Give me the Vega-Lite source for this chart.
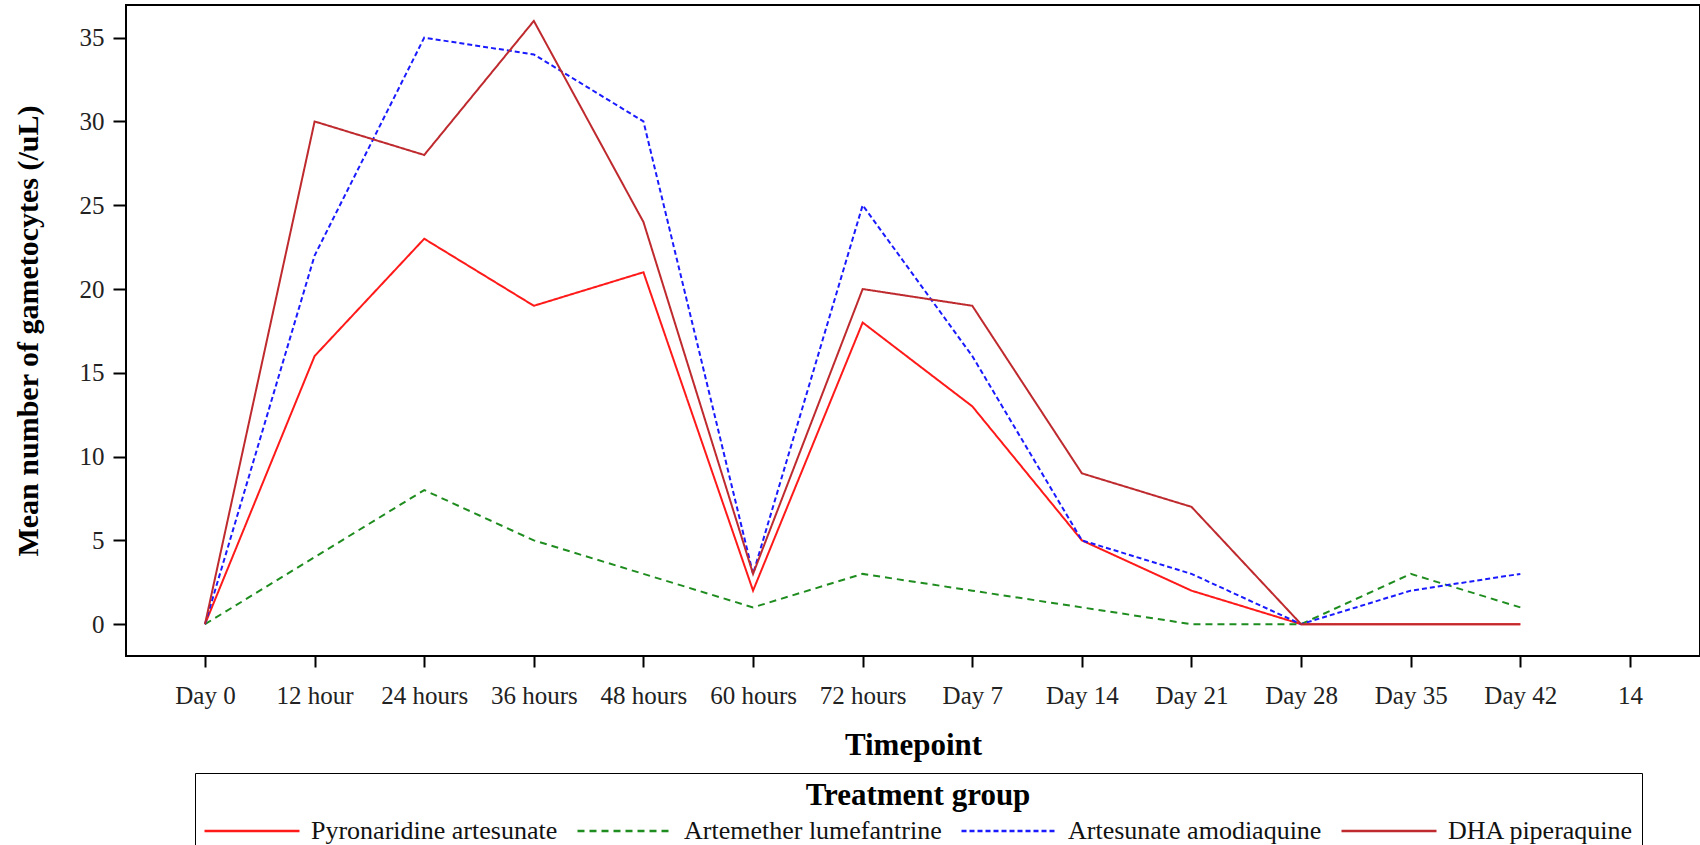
{
  "$schema": "https://vega.github.io/schema/vega-lite/v6.json",
  "width": 1574,
  "height": 651,
  "autosize": {"type": "none"},
  "padding": {"left": 126, "top": 5, "right": 0, "bottom": 189},
  "background": "white",
  "config": {
    "font": "Liberation Serif",
    "view": {"stroke": "black", "strokeWidth": 2},
    "axis": {
      "domain": false,
      "grid": false,
      "tickColor": "black",
      "tickWidth": 2,
      "labelColor": "#222222",
      "labelFont": "Liberation Serif",
      "titleFont": "Liberation Serif",
      "titleFontWeight": "bold",
      "titleColor": "black"
    },
    "legend": {
      "labelFont": "Liberation Serif",
      "titleFont": "Liberation Serif"
    }
  },
  "data": {
    "values": [
      {"t": "Day 0", "g": "Pyronaridine artesunate", "v": 0},
      {"t": "12 hour", "g": "Pyronaridine artesunate", "v": 16},
      {"t": "24 hours", "g": "Pyronaridine artesunate", "v": 23},
      {"t": "36 hours", "g": "Pyronaridine artesunate", "v": 19},
      {"t": "48 hours", "g": "Pyronaridine artesunate", "v": 21},
      {"t": "60 hours", "g": "Pyronaridine artesunate", "v": 2},
      {"t": "72 hours", "g": "Pyronaridine artesunate", "v": 18},
      {"t": "Day 7", "g": "Pyronaridine artesunate", "v": 13},
      {"t": "Day 14", "g": "Pyronaridine artesunate", "v": 5},
      {"t": "Day 21", "g": "Pyronaridine artesunate", "v": 2},
      {"t": "Day 28", "g": "Pyronaridine artesunate", "v": 0},
      {"t": "Day 35", "g": "Pyronaridine artesunate", "v": 0},
      {"t": "Day 42", "g": "Pyronaridine artesunate", "v": 0},
      {"t": "Day 0", "g": "Artemether lumefantrine", "v": 0},
      {"t": "12 hour", "g": "Artemether lumefantrine", "v": 4},
      {"t": "24 hours", "g": "Artemether lumefantrine", "v": 8},
      {"t": "36 hours", "g": "Artemether lumefantrine", "v": 5},
      {"t": "48 hours", "g": "Artemether lumefantrine", "v": 3},
      {"t": "60 hours", "g": "Artemether lumefantrine", "v": 1},
      {"t": "72 hours", "g": "Artemether lumefantrine", "v": 3},
      {"t": "Day 7", "g": "Artemether lumefantrine", "v": 2},
      {"t": "Day 14", "g": "Artemether lumefantrine", "v": 1},
      {"t": "Day 21", "g": "Artemether lumefantrine", "v": 0},
      {"t": "Day 28", "g": "Artemether lumefantrine", "v": 0},
      {"t": "Day 35", "g": "Artemether lumefantrine", "v": 3},
      {"t": "Day 42", "g": "Artemether lumefantrine", "v": 1},
      {"t": "Day 0", "g": "Artesunate amodiaquine", "v": 0},
      {"t": "12 hour", "g": "Artesunate amodiaquine", "v": 22},
      {"t": "24 hours", "g": "Artesunate amodiaquine", "v": 35},
      {"t": "36 hours", "g": "Artesunate amodiaquine", "v": 34},
      {"t": "48 hours", "g": "Artesunate amodiaquine", "v": 30},
      {"t": "60 hours", "g": "Artesunate amodiaquine", "v": 3},
      {"t": "72 hours", "g": "Artesunate amodiaquine", "v": 25},
      {"t": "Day 7", "g": "Artesunate amodiaquine", "v": 16},
      {"t": "Day 14", "g": "Artesunate amodiaquine", "v": 5},
      {"t": "Day 21", "g": "Artesunate amodiaquine", "v": 3},
      {"t": "Day 28", "g": "Artesunate amodiaquine", "v": 0},
      {"t": "Day 35", "g": "Artesunate amodiaquine", "v": 2},
      {"t": "Day 42", "g": "Artesunate amodiaquine", "v": 3},
      {"t": "Day 0", "g": "DHA piperaquine", "v": 0},
      {"t": "12 hour", "g": "DHA piperaquine", "v": 30},
      {"t": "24 hours", "g": "DHA piperaquine", "v": 28},
      {"t": "36 hours", "g": "DHA piperaquine", "v": 36},
      {"t": "48 hours", "g": "DHA piperaquine", "v": 24},
      {"t": "60 hours", "g": "DHA piperaquine", "v": 3},
      {"t": "72 hours", "g": "DHA piperaquine", "v": 20},
      {"t": "Day 7", "g": "DHA piperaquine", "v": 19},
      {"t": "Day 14", "g": "DHA piperaquine", "v": 9},
      {"t": "Day 21", "g": "DHA piperaquine", "v": 7},
      {"t": "Day 28", "g": "DHA piperaquine", "v": 0},
      {"t": "Day 35", "g": "DHA piperaquine", "v": 0},
      {"t": "Day 42", "g": "DHA piperaquine", "v": 0}
    ]
  },
  "mark": {"type": "line", "strokeWidth": 2},
  "encoding": {
    "x": {
      "field": "t",
      "type": "ordinal",
      "scale": {
        "type": "point",
        "domain": ["Day 0", "12 hour", "24 hours", "36 hours", "48 hours", "60 hours", "72 hours", "Day 7", "Day 14", "Day 21", "Day 28", "Day 35", "Day 42", "14"],
        "padding": 0.68,
        "align": 0.53
      },
      "axis": {
        "title": "Timepoint",
        "titleFontSize": 31,
        "titlePadding": 22,
        "labelFontSize": 25,
        "labelAngle": 0,
        "tickSize": 11,
        "labelPadding": 16
      }
    },
    "y": {
      "field": "v",
      "type": "quantitative",
      "scale": {"domain": [-1.9, 36.95], "nice": false, "zero": false},
      "axis": {
        "title": "Mean number of gametocytes (/uL)",
        "titleFontSize": 30,
        "titlePadding": 36,
        "labelFontSize": 25,
        "values": [0, 5, 10, 15, 20, 25, 30, 35],
        "tickSize": 13,
        "labelPadding": 9
      }
    },
    "color": {
      "field": "g",
      "type": "nominal",
      "scale": {
        "domain": ["Pyronaridine artesunate", "Artemether lumefantrine", "Artesunate amodiaquine", "DHA piperaquine"],
        "range": ["#FF1A1A", "#1E8C1E", "#1A1AFF", "#BE2A2E"]
      },
      "legend": {
        "title": "Treatment group",
        "orient": "none",
        "legendX": 69,
        "legendY": 768,
        "direction": "horizontal",
        "columns": 4,
        "titleAnchor": "middle",
        "titleFontSize": 31,
        "titleFontWeight": "bold",
        "titleColor": "black",
        "titlePadding": 4,
        "titleLimit": 600,
        "labelFontSize": 26,
        "labelColor": "#111111",
        "labelOffset": 10,
        "labelLimit": 500,
        "columnPadding": 18,
        "clipHeight": 30,
        "symbolType": "stroke",
        "symbolSize": 9025,
        "symbolStrokeWidth": 2.5,
        "padding": 8,
        "strokeColor": "black",
        "fillColor": "white"
      }
    },
    "strokeDash": {
      "field": "g",
      "type": "nominal",
      "scale": {
        "domain": ["Pyronaridine artesunate", "Artemether lumefantrine", "Artesunate amodiaquine", "DHA piperaquine"],
        "range": [[1, 0], [7, 5], [5, 3], [1, 0]]
      },
      "legend": {
        "title": "Treatment group"
      }
    }
  }
}
